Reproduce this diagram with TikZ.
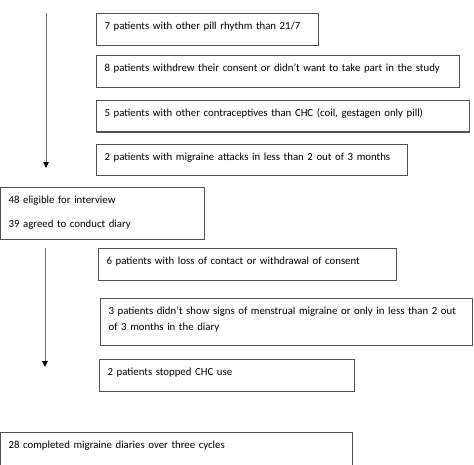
\documentclass[tikz,border=0pt]{standalone}
\usepackage{fontspec}
\setmainfont{Carlito}
\usetikzlibrary{positioning, arrows.meta}
\definecolor{boxline}{RGB}{80,80,80}
\definecolor{flowline}{RGB}{110,110,110}

\begin{document}
\begin{tikzpicture}[
  x=1pt, y=-1pt,
  reason/.style={draw=boxline, line width=1.2pt, anchor=north west,
                 align=left, font=\fontsize{10.8}{16}\selectfont,
                 inner xsep=8pt, inner ysep=0pt,
                 text height=16pt, text depth=15.5pt},
  tally/.style={reason, text depth=36pt},
  flow/.style={-{Triangle[length=6pt, width=5.5pt, color=black]}, draw=flowline, line width=1pt},
]
  \useasboundingbox (0,0) rectangle (474,464);

  % Exclusions before the interview
  \node[reason, text width=206pt] (pill) at (96,13) {7 patients with other pill rhythm than 21/7};
  \node[reason, text width=347pt, below=9.5pt of pill.south west, anchor=north west] (consent)
    {8 patients withdrew their consent or didn’t want to take part in the study};
  \node[reason, text width=357pt, below=12pt of consent.south west, anchor=north west] (contra)
    {5 patients with other contraceptives than CHC (coil, gestagen only pill)};
  \node[reason, text width=295pt, below=11pt of contra.south west, anchor=north west] (attacks)
    {2 patients with migraine attacks in less than 2 out of 3 months};

  % Interview
  \node[tally, text width=188pt] (eligible) at (0,187)
    {48 eligible for interview\\[8pt]39 agreed to conduct diary};

  % Exclusions during the diary
  \node[reason, text width=282pt] (contact) at (98,248)
    {6 patients with loss of contact or withdrawal of consent};
  \node[reason, text width=356pt, text depth=31pt] (signs) at (100,298)
    {3 patients didn’t show signs of menstrual migraine or only in less than 2 out\\of 3 months in the diary};
  \node[reason, text width=239pt] (stopped) at (99,359) {2 patients stopped CHC use};

  % Result
  \node[reason, text width=336pt, text depth=40pt] (done) at (0,432)
    {28 completed migraine diaries over three cycles};

  % Flow arrows
  \coordinate (top1) at (46,13);
  \coordinate (end1) at (46,168);
  \coordinate (top2) at (45,248);
  \coordinate (end2) at (45,367);
  \draw[flow] (top1) -- (end1);
  \draw[flow] (top2) -- (end2);
\end{tikzpicture}
\end{document}
